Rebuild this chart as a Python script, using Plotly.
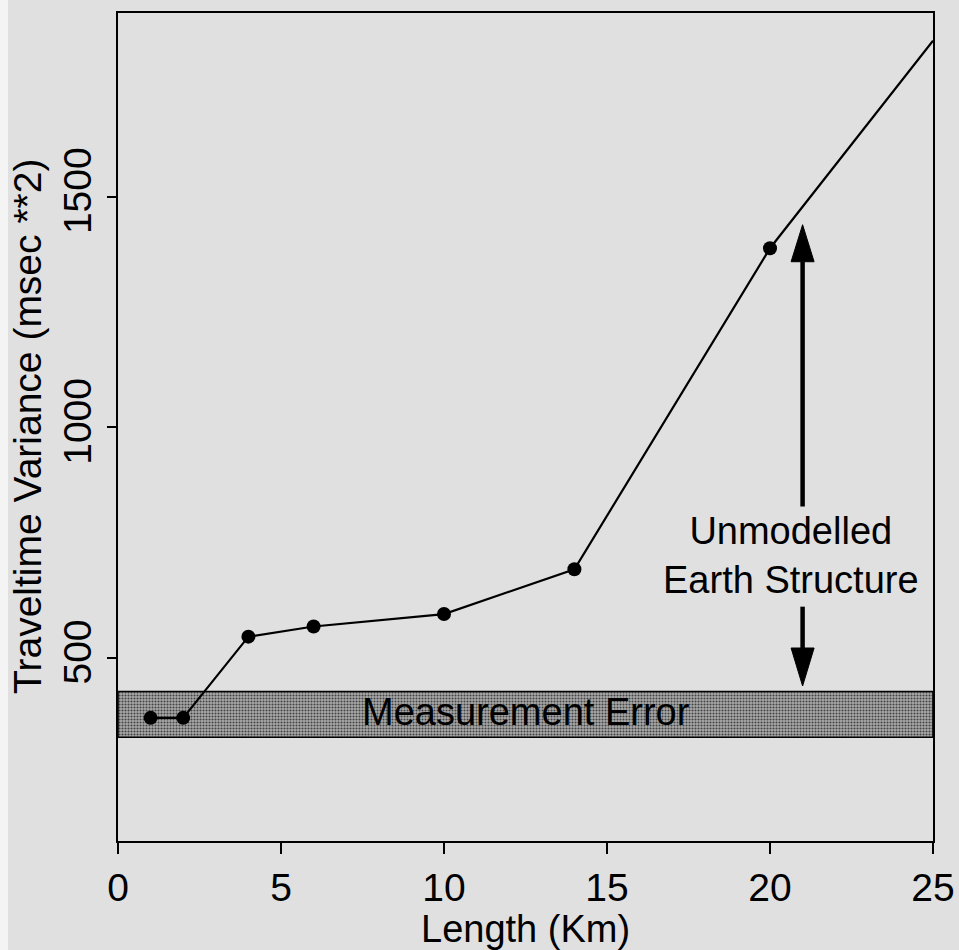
import plotly.graph_objects as go

# Variance of travel-time residuals against region length
length_km = [1, 2, 4, 6, 10, 14, 20, 25]
variance = [370, 370, 546, 568, 595, 692, 1388, 1838]
marker_sizes = [14, 14, 14, 14, 14, 14, 14, 0]

# Measurement-error band (msec**2)
error_low = 328
error_high = 427

# Double arrow spanning the unmodelled-structure part of the variance
arrow_x = 21
arrow_top = 1439
arrow_bottom = 439
arrow_gap = (828, 611)  # shaft is interrupted around the label

x_ticks = [0, 5, 10, 15, 20, 25]
y_ticks = [500, 1000, 1500]
x_range = [0, 25]
y_range = [103, 1898]

FONT = "Liberation Sans, Arial, Helvetica, sans-serif"
BG = "#e0e0e0"

fig = go.Figure()

# stippled band
fig.add_trace(go.Scatter(
    x=[x_range[0], x_range[1], x_range[1], x_range[0], x_range[0]],
    y=[error_low, error_low, error_high, error_high, error_low],
    mode="lines", fill="toself",
    fillcolor="#8c8c8c",
    fillpattern=dict(shape=".", fgcolor="#444444", bgcolor="#aaaaaa",
                     size=3, solidity=0.4, fillmode="replace"),
    line=dict(color="black", width=1.5),
    hoverinfo="skip", showlegend=False,
))

fig.add_trace(go.Scatter(
    x=length_km, y=variance, mode="lines+markers",
    line=dict(color="black", width=2.2),
    marker=dict(color="black", size=marker_sizes, opacity=1,
                line=dict(width=0)),
    showlegend=False,
))

shapes = []
# arrow shafts
shapes.append(dict(type="line", xref="x", yref="y", x0=arrow_x, x1=arrow_x,
                   y0=arrow_gap[0], y1=arrow_top - 80,
                   line=dict(color="black", width=4.5)))
shapes.append(dict(type="line", xref="x", yref="y", x0=arrow_x, x1=arrow_x,
                   y0=arrow_gap[1], y1=arrow_bottom + 80,
                   line=dict(color="black", width=4.5)))
# arrow heads (pixel-sized triangles anchored at the tips)
shapes.append(dict(type="path", xref="x", yref="y", xsizemode="pixel",
                   ysizemode="pixel", xanchor=arrow_x, yanchor=arrow_top,
                   path="M0,0 L-11.5,-37 L11.5,-37 Z",
                   fillcolor="black", line=dict(color="black", width=1)))
shapes.append(dict(type="path", xref="x", yref="y", xsizemode="pixel",
                   ysizemode="pixel", xanchor=arrow_x, yanchor=arrow_bottom,
                   path="M0,0 L-11.5,38 L11.5,38 Z",
                   fillcolor="black", line=dict(color="black", width=1)))
# white page edge on the left
shapes.append(dict(type="rect", xref="paper", yref="paper",
                   x0=-0.1448, x1=-0.1350, y0=-0.2, y1=1.1,
                   fillcolor="#f4f4f4", line=dict(width=0), layer="below"))

annotations = [
    dict(text="Measurement Error", x=12.5, y=383, xref="x", yref="y",
         showarrow=False, font=dict(family=FONT, size=38, color="black")),
    dict(text="Unmodelled<br>Earth Structure", x=20.64, y=722, xref="x", yref="y",
         showarrow=False, align="center",
         font=dict(family=FONT, size=38, color="black")),
    dict(text="Traveltime Variance (msec **2)", x=-0.112, y=0.501,
         xref="paper", yref="paper", textangle=-90, showarrow=False,
         xanchor="center", yanchor="middle",
         font=dict(family=FONT, size=39, color="black")),
    dict(text="Length (Km)", x=0.5, y=-0.1065, xref="paper", yref="paper",
         showarrow=False, xanchor="center", yanchor="middle",
         font=dict(family=FONT, size=38, color="black")),
]

fig.update_layout(
    width=959, height=950,
    margin=dict(l=118, r=26, t=13, b=109, autoexpand=False),
    paper_bgcolor=BG, plot_bgcolor=BG,
    shapes=shapes, annotations=annotations,
    font=dict(family=FONT, color="black"),
)
fig.update_xaxes(
    range=x_range, tickvals=x_ticks, ticktext=[str(v) for v in x_ticks],
    ticks="outside", ticklen=11, tickwidth=1.5, tickcolor="black",
    showline=True, linecolor="black", linewidth=2, mirror=True,
    showgrid=False, zeroline=False,
    tickfont=dict(family=FONT, size=39, color="black"),
)
fig.update_yaxes(
    range=y_range, tickvals=y_ticks, ticktext=[str(v) for v in y_ticks],
    ticks="outside", ticklen=9, tickwidth=1.5, tickcolor="black",
    tickangle=-90,
    showline=True, linecolor="black", linewidth=2, mirror=True,
    showgrid=False, zeroline=False,
    tickfont=dict(family=FONT, size=39, color="black"),
)

fig.write_html("out.html")
